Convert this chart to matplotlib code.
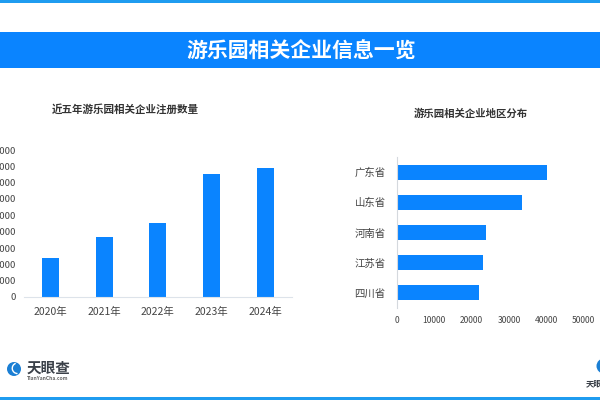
#-*- coding: utf-8 -*-
import matplotlib
matplotlib.use('Agg')
import matplotlib.pyplot as plt
from matplotlib.patches import Circle, Rectangle, Arc

plt.rcParams['font.family'] = ['Noto Sans CJK SC', 'DejaVu Sans']

years = ['2020年', '2021年', '2022年', '2023年', '2024年']
registrations = [2400, 3670, 4530, 7530, 7880]
year_ticks = [0, 1000, 2000, 3000, 4000, 5000, 6000, 7000, 8000, 9000]

provinces = ['四川省', '江苏省', '河南省', '山东省', '广东省']
province_counts = [22050, 23100, 23800, 33400, 40200]
province_ticks = [0, 10000, 20000, 30000, 40000, 50000]

BLUE = '#0a84ff'
TEXT = '#444444'
AXIS = '#dde3ea'
W, H = 600., 400.


def px_axes(fig, left, top, right, bottom):
    return fig.add_axes([left / W, 1 - bottom / H, (right - left) / W, (bottom - top) / H])


def clean(ax):
    for s in ax.spines.values():
        s.set_visible(False)
    ax.patch.set_alpha(0)


def draw_logo(bg, cx, cy, r, name, tx, ty, size):
    bg.add_patch(Circle((cx, cy), r, color='#1b7fd4', lw=0))
    bg.add_patch(Arc((cx + r * .5, cy - r * .1), r * 1.5, r * 1.5, theta1=90, theta2=250,
                     color='white', lw=1))
    bg.text(tx, ty, name, fontsize=size, color='#3a4048', weight='bold', va='center', ha='left')


fig = plt.figure(figsize=(6, 4), dpi=100, facecolor='white')

# page furniture, in pixel coordinates
bg = fig.add_axes([0, 0, 1, 1])
bg.set_xlim(0, W)
bg.set_ylim(H, 0)
bg.axis('off')
bg.add_patch(Rectangle((0, 0), W, 3, color='#1f9cf0', lw=0))
bg.add_patch(Rectangle((0, 397), W, 3, color='#1f9cf0', lw=0))
bg.add_patch(Rectangle((0, 32), W, 36, color=BLUE, lw=0))
bg.text(301.5, 51, '游乐园相关企业信息一览', fontsize=15, color='white', weight='bold',
        ha='center', va='center')
bg.text(125.5, 109, '近五年游乐园相关企业注册数量', fontsize=7.6, color='#333333', weight='bold',
        ha='center', va='center')
bg.text(471, 113.5, '游乐园相关企业地区分布', fontsize=7.5, color='#333333', weight='bold',
        ha='center', va='center')

draw_logo(bg, 14, 369, 7, '天眼查', 27, 368, 10.5)
bg.text(27, 378, 'TianYanCha.com', fontsize=3.6, color='#666666', weight='bold', va='center')
draw_logo(bg, 604, 366, 7.5, '天眼查', 586, 383.5, 6)

# registrations per year
ax = px_axes(fig, 23.5, 150, 292, 297)
ax.bar(range(len(years)), registrations, width=0.317, color=BLUE)
ax.set_xlim(-0.5, 4.5)
ax.set_ylim(0, 9000)
ax.set_xticks(range(len(years)))
ax.set_xticklabels(years, fontsize=7.5, color=TEXT)
ax.set_yticks(year_ticks)
ax.set_yticklabels([str(v) for v in year_ticks], fontsize=6.8, color=TEXT)
ax.tick_params(axis='both', length=0)
ax.tick_params(axis='x', pad=7)
ax.tick_params(axis='y', pad=5.5)
clean(ax)
ax.spines['bottom'].set_visible(True)
ax.spines['bottom'].set_color(AXIS)

# companies per province
ax2 = px_axes(fig, 396.8, 157, 583.8, 308)
ax2.barh(range(len(provinces)), province_counts, height=0.5, color=BLUE)
ax2.set_xlim(0, 50000)
ax2.set_ylim(-0.5, 4.5)
ax2.set_yticks(range(len(provinces)))
ax2.set_yticklabels(provinces, fontsize=7.5, color=TEXT)
ax2.set_xticks(province_ticks)
ax2.set_xticklabels([str(v) for v in province_ticks], fontsize=6.1, color=TEXT)
ax2.tick_params(axis='both', length=0)
ax2.tick_params(axis='x', pad=5.5)
ax2.tick_params(axis='y', pad=8)
clean(ax2)
ax2.spines['left'].set_visible(True)
ax2.spines['left'].set_color('#d5d9de')

fig.savefig('out.png', dpi=100)
